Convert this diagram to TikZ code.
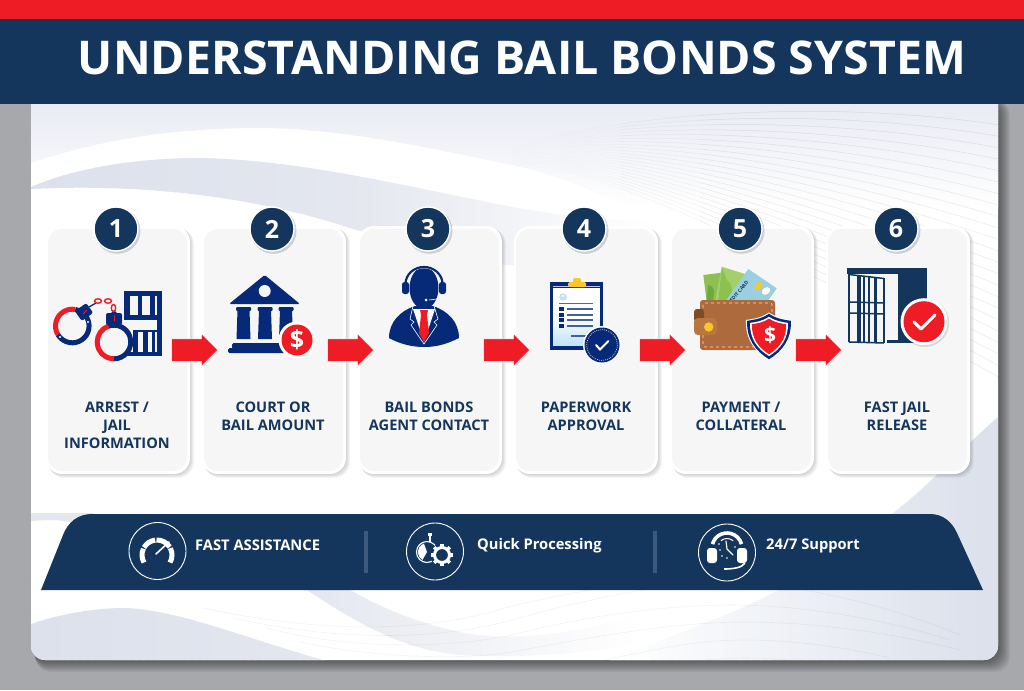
\documentclass[tikz,border=0pt]{standalone}
\usepackage{fontspec}
\usetikzlibrary{shapes.arrows,shapes.geometric}
\setmainfont{Open Sans}
\newcommand\semib{\bfseries}
\definecolor{head}{HTML}{14365D}
\definecolor{icon}{HTML}{062A78}
\definecolor{redd}{HTML}{EE1C25}
\definecolor{pagebg}{HTML}{A7A8AB}
\definecolor{pale}{HTML}{DCE1EC}
\definecolor{cardin}{HTML}{F6F6F7}
\definecolor{faint}{HTML}{E8EBF3}
\definecolor{soft}{HTML}{E4E7EF}
\definecolor{divline}{HTML}{3D5A7D}
\definecolor{cardblue}{HTML}{9ACFE0}
\definecolor{greena}{HTML}{8CC152}
\definecolor{greenb}{HTML}{A4CF6A}
\definecolor{greenc}{HTML}{6FA83C}
\definecolor{browna}{HTML}{AD6A3C}
\definecolor{brownb}{HTML}{B9763F}
\definecolor{brownc}{HTML}{7F4A26}
\definecolor{goldy}{HTML}{F9C72B}
\definecolor{skyb}{HTML}{BFE3F7}
\newcommand\hgrad[4]{\foreach \gn in {0,...,39}{%
  \pgfmathsetmacro\gp{\gn/39*100}\pgfmathsetmacro\gxa{#1+(#2-#1)*\gn/40}\pgfmathsetmacro\gxb{#1+(#2-#1)*(\gn+1)/40+1}%
  \fill[#4!\gp!#3] (\gxa,100) rectangle (\gxb,670);}}
\newcommand\vgrad[4]{\foreach \gn in {0,...,39}{%
  \pgfmathsetmacro\gp{\gn/39*100}\pgfmathsetmacro\gya{#1+(#2-#1)*\gn/40}\pgfmathsetmacro\gyb{#1+(#2-#1)*(\gn+1)/40+1}%
  \fill[#4!\gp!#3] (25,\gya) rectangle (1005,\gyb);}}
\tikzset{
  cardout/.style={rectangle,rounded corners=16,fill=white,minimum width=144,minimum height=248,inner sep=0},
  cardinn/.style={rectangle,rounded corners=14,fill=cardin,minimum width=139,minimum height=242,inner sep=0},
  numdisc/.style={circle,fill=head,draw=white,line width=1.4,minimum size=44,inner sep=0,text=white,font=\semib\fontsize{25}{25}\selectfont},
  steplabel/.style={text=head,align=center,inner sep=0,font=\semib\fontsize{14.6}{18}\selectfont,anchor=north},
  flowarrow/.style={single arrow,fill=redd,draw=white,line width=.5,inner sep=0,text height=22pt,text depth=0pt,minimum height=46,single arrow head extend=5,single arrow tip angle=90,single arrow head indent=0},
  benefit/.style={text=white,inner sep=0,anchor=west,font=\semib\fontsize{14.7}{18}\selectfont},
  ringb/.style={circle,draw=white,line width=.9,minimum size=57,inner sep=0},
  fanline/.style={line width=.5},
  lowline/.style={draw=black,opacity=.05,line width=.55},
}
\begin{document}
\begin{tikzpicture}[x=1pt,y=-1pt]
\useasboundingbox (0,0) rectangle (1024,690);
\fill[pagebg] (0,0) rectangle (1024,690);
% card shadow
\foreach \s in {1,...,12}{\fill[black,opacity=.045,rounded corners=15] (31+\s*.4,100) rectangle (998+\s,660+\s);}
\fill[white,rounded corners=14] (31,90) rectangle (998,660);
\begin{scope}
\clip[rounded corners=14] (31,90) rectangle (998,660);
% top fade
\begin{scope}
\clip (31,104) -- (998,104) -- (998,212) -- (640,212) .. controls (590,190) and (560,175) .. (512,165) .. controls (430,148) and (340,128) .. (260,128) .. controls (160,128) and (90,143) .. (31,163) -- cycle;
\vgrad{104}{208}{faint}{white}
\end{scope}
% faint fan
\foreach \xa/\xb/\fo in {512/560/.012,560/620/.025,620/700/.05,700/1000/.085}{
 \begin{scope}
 \clip (\xa,100) rectangle (\xb,440);
 \foreach \i in {0,...,22}{
  \draw[fanline,draw=black,opacity=\fo] (512,{148+\i*.9}) .. controls (590,{120+\i*1.6}) and (800,{95+\i*7.7}) .. (1000,{125+\i*11.5});
 }
 \end{scope}
}
% second band
\begin{scope}
\clip (31,187) .. controls (70,170) and (130,158) .. (200,158) .. controls (300,160) and (400,185) .. (512,207) .. controls (560,216) and (620,222) .. (680,222) -- (680,270) -- (505,265) .. controls (450,255) and (400,243) .. (350,228) .. controls (280,205) and (170,182) .. (31,189) -- cycle;
\hgrad{31}{350}{pale}{soft}
\hgrad{350}{660}{soft}{white}
\fill[white] (660,100) rectangle (700,300);
\end{scope}
% side stripe
\fill[soft] (31,513) -- (95,513) -- (70,522) .. controls (55,519) and (45,520) .. (31,521) -- cycle;
% lower right shape
\begin{scope}
\clip (998,417) .. controls (960,450) and (930,485) .. (893,513) .. controls (860,540) and (820,570) .. (779,590) .. controls (750,605) and (725,616) .. (699,625) .. controls (665,640) and (635,650) .. (605,660) -- (605,664) -- (998,664) -- cycle;
\hgrad{610}{985}{white}{pale}
\fill[pale] (985,400) rectangle (1000,670);
\end{scope}
% lower ribbon
\begin{scope}
\clip (350,590) .. controls (380,607) and (420,625) .. (470,634) .. controls (530,642) and (590,630) .. (650,612) -- (650,640) .. controls (590,655) and (520,658) .. (460,655) .. controls (410,650) and (370,632) .. (307,590) -- cycle;
\hgrad{307}{640}{soft}{white}
\end{scope}
% lower left shape
\begin{scope}
\clip (31,624) .. controls (60,614) and (95,608) .. (125,608) .. controls (180,610) and (250,640) .. (330,662) -- (31,662) -- cycle;
\hgrad{31}{330}{pale}{soft}
\end{scope}
% faint bottom lines
\draw[lowline] (203,608) .. controls (330,635) and (430,632) .. (512,606) .. controls (550,597) and (590,590) .. (640,580);
\draw[lowline] (233,618) .. controls (340,642) and (440,640) .. (512,620) .. controls (590,598) and (660,585) .. (720,580);
\draw[lowline] (779,586) .. controls (840,595) and (900,610) .. (960,635);
\draw[lowline] (267,628) .. controls (340,648) and (440,650) .. (512,635) .. controls (600,612) and (680,605) .. (732,605) .. controls (800,605) and (880,618) .. (950,640);
\draw[lowline] (300,642) .. controls (360,655) and (450,662) .. (512,652) .. controls (600,635) and (680,622) .. (745,622) .. controls (810,622) and (890,632) .. (960,650);
\draw[lowline] (605,660) .. controls (660,648) and (700,640) .. (745,640) .. controls (790,640) and (840,646) .. (890,658);
\draw[lowline] (690,662) .. controls (710,659) and (730,658) .. (745,658) .. controls (770,658) and (790,660) .. (805,662);
\end{scope}
% header
\fill[head] (0,19) rectangle (1024,104);
\fill[redd] (0,0) rectangle (1024,19);
\node[text=white,inner sep=0,font=\bfseries\fontsize{46.5}{46.5}\selectfont] (title) at (522,57.5) {UNDERSTANDING BAIL BONDS SYSTEM};
% cards
\foreach \i/\lab/\lx in {1/{ARREST /\\JAIL\\INFORMATION}/117,2/{COURT OR\\BAIL AMOUNT}/273,3/{BAIL BONDS\\AGENT CONTACT}/429,4/{PAPERWORK\\APPROVAL}/586,5/{PAYMENT /\\COLLATERAL}/741,6/{FAST JAIL\\RELEASE}/897}{
 \pgfmathsetmacro{\cx}{118+156*(\i-1)}
 \pgfmathsetmacro{\nx}{116+156*(\i-1)}
 \foreach \s in {1,...,5}{\fill[black,opacity=.035,rounded corners=16] ({\cx-72+\s*.5},{226+\s*.5}) rectangle ({\cx+72+\s*.8},{474+\s*.8});}
 \node[cardout] (card\i) at (\cx,350) {};
 \node[cardinn] (cardin\i) at ({\cx-.5},350) {};
 \fill[black,opacity=.16] ({\nx+1.5},{229+1.8}) circle (23);
 \node[numdisc] (num\i) at (\nx,229) {\i};
 \node[steplabel] (lab\i) at (\lx,402) {\lab};
}
% ---- icon 1
\fill[icon] (124,291) rectangle (162,296);
\fill[icon] (157,296) rectangle (162,356);
\fill[icon] (124,296) rectangle (130,315);
\fill[icon] (138,296) rectangle (142,315);
\fill[icon] (150,296) rectangle (155,315);
\fill[icon] (124,315) rectangle (162,320);
\fill[icon] (133,330) rectangle (162,332);
\fill[icon] (124,352) rectangle (162,356);
\fill[icon] (133,332) rectangle (138,352);
\fill[icon] (143,332) rectangle (148,352);
\fill[icon] (152,332) rectangle (155,352);
\draw[icon,line width=5] (72.3,326) ++(280:16.8) arc[start angle=280,end angle=510,radius=16.8];
\draw[redd,line width=5] (72.3,326) ++(150:16.8) arc[start angle=150,end angle=280,radius=16.8];
\draw[icon,line width=5] (114,342) ++(250:16.8) arc[start angle=250,end angle=450,radius=16.8];
\draw[redd,line width=5] (114,342) ++(90:16.8) arc[start angle=90,end angle=250,radius=16.8];
\fill[icon,rounded corners=2,rotate around={35:(84,312)}] (77,306) rectangle (91,318);
\fill[icon,rounded corners=2] (106,313) rectangle (122,325);
\fill[icon] (108,316) -- (114,310) -- (120,316) -- cycle;
\draw[redd,line width=.9] (114,321) -- (114,315);
\draw[redd,line width=.9] (83,314) -- (87,310);
\fill[white] (88,322) circle (1.2) (60,337) circle (1.2) (114,352) circle (1.2);
\draw[icon,line width=1.3] (89,307) -- (96,303);
\draw[redd,line width=1.4] (98,301) ellipse (3.5 and 2.2) (108,301) ellipse (3.5 and 2.2) (113.5,308) ellipse (2.2 and 3.5);
% ---- icon 2
\fill[icon,rounded corners=1.5] (264.7,275) -- (300,304) -- (229,304) -- cycle;
\fill[cardin] (264.7,291) circle (6);
\foreach \x in {243.5,265,286}{
 \fill[icon,rounded corners=1] ({\x-7.5},307) rectangle ({\x+7.5},311);
 \fill[icon] ({\x-6},310) -- ({\x+6},310) -- ({\x+7},339) -- ({\x-7},339) -- cycle;
}
\fill[icon,rounded corners=1.5] (232,343) rectangle (290,349);
\fill[icon,rounded corners=1.5] (228,348) rectangle (290,353);
\fill[white] (297,340) circle (18.5);
\fill[redd] (297,340) circle (15.5);
\node[text=white,inner sep=0,font=\bfseries\fontsize{25}{25}\selectfont] (dollara) at (297,340) {\$};
% ---- icon 3
\fill[icon] (389,338) .. controls (389,322) and (400,311) .. (415,306) -- (433,306) .. controls (448,311) and (459,322) .. (459,338) .. controls (445,345) and (435,347) .. (424,347) .. controls (412,347) and (400,344) .. (389,338) -- cycle;
\fill[white] (413,309) -- (435,309) -- (424,342) -- cycle;
\fill[redd] (420,310) -- (428,310) -- (427,315) -- (429,333) -- (424,342) -- (419,333) -- (421,315) -- cycle;
\draw[white,line width=.6] (413,306) -- (410,319) -- (414,322) -- (411,325) -- (424,344) -- (437,325) -- (434,322) -- (438,319) -- (434,306);
\fill[icon] (424,288) ellipse (14.5 and 21);
\draw[white,line width=.7] (404,289) arc[start angle=180,end angle=360,x radius=20,y radius=21];
\draw[icon,line width=2.2] (405.5,284) arc[start angle=180,end angle=360,x radius=18.5,y radius=17];
\fill[icon,rounded corners=2.5] (402,282) rectangle (409,294);
\fill[icon,rounded corners=2.5] (439,282) rectangle (446,294);
\draw[white,line width=.6] (441,294) .. controls (441,300) and (435,299) .. (429,300);
\fill[white] (426,300) circle (1.5);
% ---- icon 4
\fill[icon] (550,282) rectangle (603,350);
\begin{scope}
\clip (553,288) rectangle (600,345);
\fill[white] (553,288) rectangle (600,315);
\foreach \n in {0,...,15}{\pgfmathsetmacro\gp{\n/15*100}\fill[skyb!\gp!white] (553,{315+\n*2}) rectangle (600,{318+\n*2});}
\end{scope}
\draw[blue!25!white,line width=.5] (553,286) -- (600,286);
\fill[goldy,rounded corners=1.5] (568,282) rectangle (586,287);
\fill[goldy,rounded corners=1.5] (573,278) rectangle (581,283);
\fill[skyb] (563,297) circle (3.8);
\fill[white] (563,296) circle (1.3);
\draw[icon!70,line width=1] (559,303) -- (593,303);
\foreach \y in {309,315,320,326}{
 \fill[icon] (559,{\y-2}) rectangle (564,{\y+2});
 \draw[icon!75!white,line width=1.5] (567,\y) -- (593,\y);
}
\draw[icon!75!white,line width=1.3] (571,336) -- (590,336);
\fill[white] (602,345) circle (19);
\fill[icon] (602,345) circle (17.5);
\draw[white,line width=.5,dash pattern=on 1 off 1] (602,345) circle (15.3);
\draw[white,line width=2,line cap=round] (596,345) -- (600,349.5) -- (608.5,341);
% ---- icon 5
\fill[greena] (703.3,275) -- (721.7,272.7) -- (720,302) -- (706.7,302) -- cycle;
\fill[greenc] (708,285) .. controls (714,285) and (716,292) .. (712,302) -- (706.7,302) -- cycle;
\fill[greenb] (721.7,266.7) -- (745,274) -- (738.3,302) -- (715,302) -- cycle;
\fill[greena] (727,280) .. controls (733,285) and (734,295) .. (728,302) -- (718,302) -- (722,268) -- cycle;
\fill[cardblue] (748.3,269) -- (776.7,288.3) -- (760,312) -- (725,302) -- cycle;
\node[text=head,inner sep=0,rotate=50,font=\semib\fontsize{5}{6}\selectfont] (cardtxt) at (737,294) {CREDIT CARD};
\fill[goldy,rotate around={35:(758.5,286)}] (758.5,286) ellipse (4.5 and 3.4);
\fill[white,rotate around={35:(766,291)}] (766,291) ellipse (4.5 and 3.4);
\fill[browna,rounded corners=3] (700,300) rectangle (775,350);
\draw[orange!30!white,line width=.6,dashed,rounded corners=2] (703,303) rectangle (772,347);
\fill[brownc,rounded corners=3] (694,309) rectangle (704,322);
\fill[brownb,rounded corners=4] (694,318) rectangle (717,335);
\fill[goldy] (708.7,327) circle (4.7);
\foreach \s/\c in {1/white,.95/icon,.82/white,.74/redd}{
 \fill[\c,shift={(769,336)},scale=\s] (0,-23.5) .. controls (8,-18) and (16,-17) .. (23,-16) .. controls (24,3) and (14,16) .. (0,24.5) .. controls (-14,16) and (-24,3) .. (-23,-16) .. controls (-16,-17) and (-8,-18) .. (0,-23.5) -- cycle;
}
\node[text=white,inner sep=0,font=\bfseries\fontsize{21}{21}\selectfont] (dollarb) at (770,335) {\$};
% ---- icon 6
\fill[head] (847,268) rectangle (927,274);
\fill[head] (898,268) rectangle (927,343);
\fill[head] (887,340) rectangle (905,343);
\foreach \x/\w in {849/2.5,859/3.5,864/1.5,869/2,875/3,884/1.5}{
 \pgfmathsetmacro{\yt}{274+(\x-849)*.12}
 \pgfmathsetmacro{\yb}{342+(\x-849)*.03}
 \draw[head,line width=\w] (\x,\yt) -- (\x,\yb);
}
\draw[head,line width=1.5] (849,274.5) -- (884,278.5);
\draw[head,line width=1.5] (849,342) -- (884,343);
\draw[head,line width=1.5] (849,302) -- (884,303);
\draw[head,line width=1.5] (849,313) -- (884,314);
\fill[black,opacity=.12] (925,323) circle (24);
\fill[white] (924,321.7) circle (23.5);
\fill[redd] (924,321.7) circle (20.5);
\draw[white,line width=3,line cap=round,line join=round] (914,322) -- (921,329) -- (935,315);
% arrows
\foreach \k in {1,...,5}{
 \pgfmathsetmacro{\ax}{189+156*(\k-1)}
 \node[flowarrow] (arrow\k) at (\ax,350) {};
}
% banner
\fill[head] (41,590) -- (63,535) .. controls (68,522) and (78,514) .. (92,514) -- (930,514) .. controls (943,514) and (952,522) .. (957,533) -- (983,590) -- cycle;
\node[ringb] (ring1) at (157.5,551) {};
\node[ringb] (ring2) at (435,551.5) {};
\node[ringb] (ring3) at (727,552.5) {};
\node[benefit] (ben1) at (195,545.5) {FAST ASSISTANCE};
\node[benefit] (ben2) at (477,545.5) {Quick Processing};
\node[benefit] (ben3) at (766,545.5) {24/7 Support};
\fill[divline] (364,531) rectangle (368,573);
\fill[divline] (653,531) rectangle (657,573);
% gauge
\foreach \a/\b in {150/205,210/263,268/328,333/390}{
 \draw[white,line width=5] (157,555) ++(\a:15) arc[start angle=\a,end angle=\b,radius=15];
}
\draw[white,line width=1.6,line cap=round] (156,554) -- (169,542);
% stopwatch and gear
\draw[white,line width=1.1] (427,552) circle (10.5);
\fill[white] (427,552) ++(120:9) arc[start angle=120,end angle=250,radius=9] -- (427,552) -- cycle;
\fill[white] (427.5,533) rectangle (432,536);
\fill[white] (429,536) rectangle (430.5,542);
\fill[head] (442,555) circle (12);
\foreach \a in {0,45,...,315}{
 \fill[white,rotate around={\a:(442,555)}] (440.3,544) rectangle (443.7,548);
}
\draw[white,line width=3] (442,555) circle (7.5);
% headset
\draw[white,line width=3.6] (727,548) ++(195:15) arc[start angle=195,end angle=345,radius=15];
\fill[white,rounded corners=3] (707,548) rectangle (717,563);
\fill[white,rounded corners=3] (737,548) rectangle (747,563);
\draw[white,line width=1] (727,548) ++(230:9.5) arc[start angle=230,end angle=310,radius=9.5];
\draw[white,line width=1.1,line cap=round] (726,541) -- (727,549) -- (733,555);
\fill[white] (720,550) circle (.9) (735,547) circle (.9) (722,556) circle (.9) (727,558) circle (.9) (719,544) circle (.9);
\draw[white,line width=1.6] (745,563) .. controls (742,568) and (732,569) .. (724,569);
\end{tikzpicture}
\end{document}
